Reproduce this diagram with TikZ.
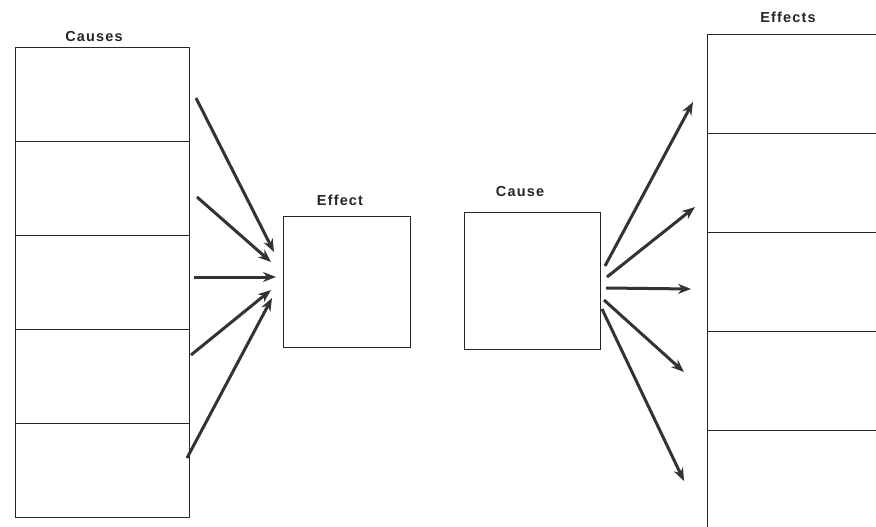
\documentclass[tikz,border=0pt]{standalone}
\usepackage{fontspec}
\setmainfont{Liberation Sans}
\usetikzlibrary{arrows.meta}
\begin{document}
\begin{tikzpicture}[x=1pt,y=-1pt,
  cell/.style={draw=black!85,line width=1pt,minimum width=174pt,minimum height=93.8pt,inner sep=0pt,outer sep=0pt},
  rcell/.style={draw=black!85,line width=1pt,minimum width=190pt,minimum height=98.8pt,inner sep=0pt,outer sep=0pt},
  sbox/.style={draw=black!85,line width=1pt,inner sep=0pt,outer sep=0pt},
  title/.style={font=\fontsize{14.5}{16}\selectfont\addfontfeatures{LetterSpace=8}\bfseries,text=black!85},
  arr/.style={draw=black!80,line width=3pt,-{Stealth[length=13pt,width=10pt]}}]
\useasboundingbox (0,0) rectangle (876,527);
\clip (0,0) rectangle (876,527);
% left column
\foreach \i in {0,...,4}{
  \node[cell,anchor=north west] (L\i) at (15,{48+93.8*\i}) {};
}
\node[title] (causes) at (94,37) {Causes};
% right column
\foreach \i in {0,...,4}{
  \node[rcell,anchor=north west] (R\i) at (707,{35+98.8*\i}) {};
}
\node[title] (effects) at (788,17) {Effects};
% middle boxes
\node[sbox,minimum width=127pt,minimum height=131pt,anchor=north west] (effbox) at (283,216) {};
\node[title] (efflab) at (340,200) {Effect};
\node[sbox,minimum width=136pt,minimum height=137pt,anchor=north west] (causebox) at (464,212) {};
\node[title] (causelab) at (520,192) {Cause};
% left arrows
\coordinate (a1s) at (196,98);  \coordinate (a1t) at (274,252);
\coordinate (a2s) at (197,197); \coordinate (a2t) at (271,262);
\coordinate (a3s) at (194,277); \coordinate (a3t) at (276,277);
\coordinate (a4s) at (191,355); \coordinate (a4t) at (271,290);
\coordinate (a5s) at (187,458); \coordinate (a5t) at (272,298);
\foreach \k in {1,...,5}{ \draw[arr] (a\k s) -- (a\k t); }
% right arrows
\coordinate (b1s) at (605,266); \coordinate (b1t) at (693,102);
\coordinate (b2s) at (607,277); \coordinate (b2t) at (695,207);
\coordinate (b3s) at (606,288); \coordinate (b3t) at (691,289);
\coordinate (b4s) at (604,300); \coordinate (b4t) at (684,372);
\coordinate (b5s) at (602,309); \coordinate (b5t) at (684,481);
\foreach \k in {1,...,5}{ \draw[arr] (b\k s) -- (b\k t); }
\end{tikzpicture}
\end{document}
